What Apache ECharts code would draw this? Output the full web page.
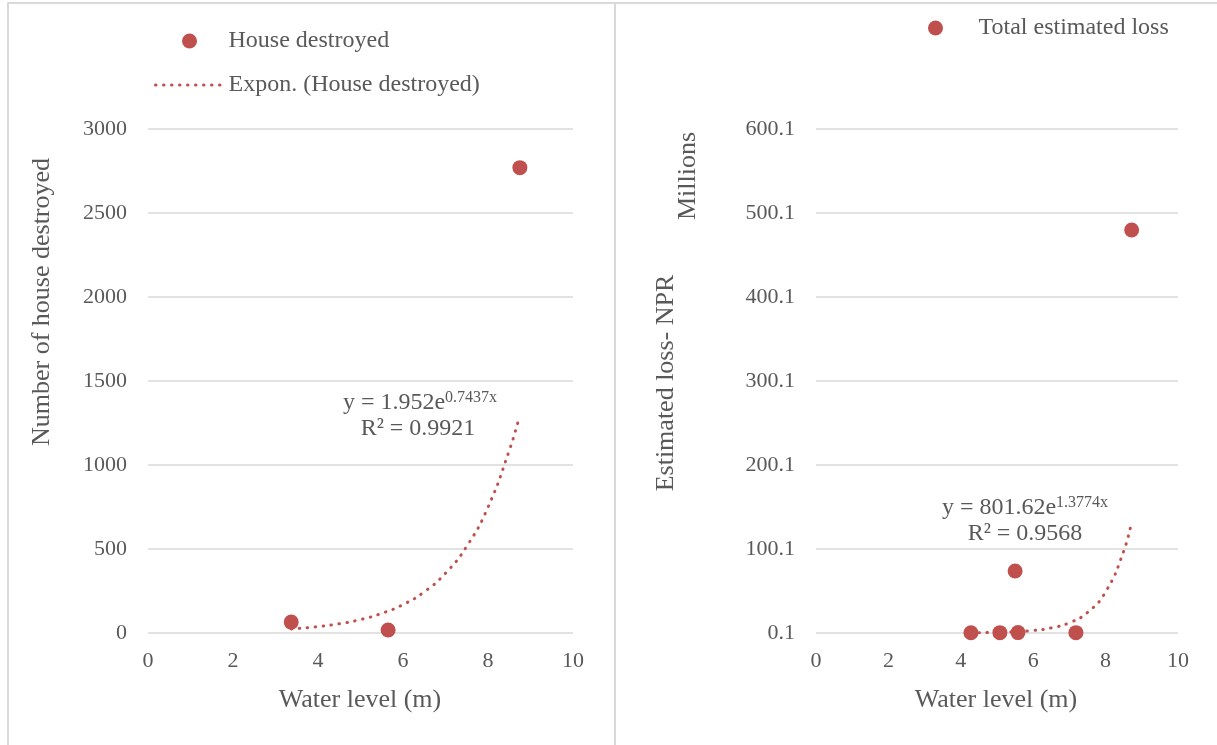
<!DOCTYPE html>
<html>
<head>
<meta charset="utf-8">
<script src="https://cdn.jsdelivr.net/npm/echarts@6/dist/echarts.min.js"></script>
<style>
  html, body { margin: 0; padding: 0; background: #fff; }
  #main { width: 1217px; height: 745px; }
</style>
</head>
<body>
<div id="main"></div>
<script>
// water level (m) vs houses destroyed
const houseX = [3.37, 5.65, 8.75]
const houseY = [65, 18, 2770]
// exponential trend
const houseTrendX = [3.37, 4, 4.5, 5, 5.5, 6, 6.5, 7, 7.5, 8, 8.5, 8.72]
const houseTrendY = [24, 38, 55, 80, 117, 169, 245, 356, 516, 749, 1086, 1270]

// water level (m) vs total estimated loss (millions NPR)
const lossX = [4.28, 5.08, 5.58, 7.18, 5.5, 8.72]
const lossY = [0.4, 0.5, 0.6, 0.5, 73.9, 479.9]
const lossTrendX = [4.28, 5, 5.5, 6, 6.5, 7, 7.5, 8, 8.5, 8.72]
const lossTrendY = [0.3, 0.8, 1.6, 3.1, 6.2, 12.3, 24.6, 49, 97.5, 133]
// loss axis labels run 0.1, 100.1 ... 600.1
const lossAxisOffset = 0.1

const red = '#C0504D'
const grey = '#595959'
const gridGrey = '#d9d9d9'
const serif = '"Liberation Serif", "Times New Roman", serif'

const pairs = (xs, ys, off) => xs.map((x, i) => [x, ys[i] - (off || 0)])

const xAxisBase = {
  type: 'value',
  min: 0,
  max: 10,
  interval: 2,
  axisLine: { show: false },
  axisTick: { show: false },
  splitLine: { show: false },
  axisLabel: { color: grey, fontFamily: serif, fontSize: 22, margin: 17 }
}
const yAxisBase = {
  type: 'value',
  axisLine: { show: false },
  axisTick: { show: false },
  splitLine: { lineStyle: { color: gridGrey, width: 1.5 } },
  axisLabel: { color: grey, fontFamily: serif, fontSize: 22, margin: 21 }
}
const dotted = { color: red, width: 3, type: [0.5, 7.5], cap: 'round' }
const legendText = { color: grey, fontFamily: serif, fontSize: 24 }

const option = {
  animation: false,
  backgroundColor: '#fff',
  grid: [
    { left: 148, right: 644, top: 129, bottom: 112 },
    { left: 816, right: 39, top: 129, bottom: 112 }
  ],
  xAxis: [
    Object.assign({ gridIndex: 0 }, xAxisBase),
    Object.assign({ gridIndex: 1 }, xAxisBase)
  ],
  yAxis: [
    Object.assign({ gridIndex: 0, min: 0, max: 3000, interval: 500 }, yAxisBase, {
      axisLabel: Object.assign({}, yAxisBase.axisLabel, {
        formatter: (v) => String(v)
      })
    }),
    Object.assign({ gridIndex: 1, min: 0, max: 600, interval: 100 }, yAxisBase, {
      axisLabel: Object.assign({}, yAxisBase.axisLabel, {
        formatter: (v) => (v + lossAxisOffset).toFixed(1)
      })
    })
  ],
  legend: [
    {
      data: [
        'House destroyed',
        {
          name: 'Expon. (House destroyed)',
          itemStyle: { opacity: 0 },
          lineStyle: { color: red, width: 3, type: [0.5, 7.5], cap: 'round' }
        }
      ],
      orient: 'vertical',
      left: 154,
      top: 29,
      padding: 0,
      itemWidth: 68,
      itemHeight: 15,
      itemGap: 20,
      textStyle: legendText
    },
    {
      data: ['Total estimated loss'],
      orient: 'vertical',
      left: 928,
      top: 16,
      padding: 0,
      itemWidth: 76,
      itemHeight: 15,
      textStyle: legendText
    }
  ],
  series: [
    {
      name: 'Expon. (House destroyed)',
      type: 'line',
      xAxisIndex: 0,
      yAxisIndex: 0,
      smooth: true,
      showSymbol: false,
      symbol: 'none',
      lineStyle: dotted,
      itemStyle: { color: red },
      data: pairs(houseTrendX, houseTrendY)
    },
    {
      name: 'House destroyed',
      type: 'scatter',
      xAxisIndex: 0,
      yAxisIndex: 0,
      symbolSize: 15,
      itemStyle: { color: red, opacity: 1 },
      data: pairs(houseX, houseY)
    },
    {
      name: 'Expon. (Total estimated loss)',
      type: 'line',
      xAxisIndex: 1,
      yAxisIndex: 1,
      smooth: true,
      showSymbol: false,
      symbol: 'none',
      lineStyle: dotted,
      itemStyle: { color: red },
      data: pairs(lossTrendX, lossTrendY, lossAxisOffset)
    },
    {
      name: 'Total estimated loss',
      type: 'scatter',
      xAxisIndex: 1,
      yAxisIndex: 1,
      symbolSize: 15,
      itemStyle: { color: red, opacity: 1 },
      data: pairs(lossX, lossY, lossAxisOffset)
    }
  ],
  graphic: [
    // panel borders
    { type: 'line', shape: { x1: 7, y1: 3, x2: 1217, y2: 3 }, style: { stroke: gridGrey, lineWidth: 2 } },
    { type: 'line', shape: { x1: 8, y1: 3, x2: 8, y2: 745 }, style: { stroke: gridGrey, lineWidth: 2 } },
    { type: 'line', shape: { x1: 615, y1: 3, x2: 615, y2: 745 }, style: { stroke: gridGrey, lineWidth: 2 } },
    // axis titles
    { type: 'text', x: 360, y: 700, style: { text: 'Water level (m)', font: '26px ' + serif, fill: grey, align: 'center', verticalAlign: 'middle' } },
    { type: 'text', x: 996, y: 700, style: { text: 'Water level (m)', font: '26px ' + serif, fill: grey, align: 'center', verticalAlign: 'middle' } },
    { type: 'text', x: 42, y: 302, rotation: Math.PI / 2, style: { text: 'Number of house destroyed', font: '26px ' + serif, fill: grey, align: 'center', verticalAlign: 'middle' } },
    { type: 'text', x: 666, y: 383, rotation: Math.PI / 2, style: { text: 'Estimated loss- NPR', font: '26px ' + serif, fill: grey, align: 'center', verticalAlign: 'middle' } },
    { type: 'text', x: 688, y: 176, rotation: Math.PI / 2, style: { text: 'Millions', font: '26px ' + serif, fill: grey, align: 'center', verticalAlign: 'middle' } },
    // trendline equations
    {
      type: 'text', x: 420, y: 403,
      style: {
        text: '{a|y = 1.952e}{b|0.7437x}', align: 'center', verticalAlign: 'middle', fill: grey,
        rich: { a: { fontFamily: serif, fontSize: 24, fill: grey }, b: { fontFamily: serif, fontSize: 16, fill: grey, padding: [0, 0, 11, 0] } }
      }
    },
    { type: 'text', x: 418, y: 429, style: { text: 'R² = 0.9921', font: '24px ' + serif, fill: grey, align: 'center', verticalAlign: 'middle' } },
    {
      type: 'text', x: 1025, y: 508,
      style: {
        text: '{a|y = 801.62e}{b|1.3774x}', align: 'center', verticalAlign: 'middle', fill: grey,
        rich: { a: { fontFamily: serif, fontSize: 24, fill: grey }, b: { fontFamily: serif, fontSize: 16, fill: grey, padding: [0, 0, 11, 0] } }
      }
    },
    { type: 'text', x: 1025, y: 534, style: { text: 'R² = 0.9568', font: '24px ' + serif, fill: grey, align: 'center', verticalAlign: 'middle' } }
  ]
}

const chart = echarts.init(document.getElementById('main'))
chart.setOption(option)
</script>
</body>
</html>
